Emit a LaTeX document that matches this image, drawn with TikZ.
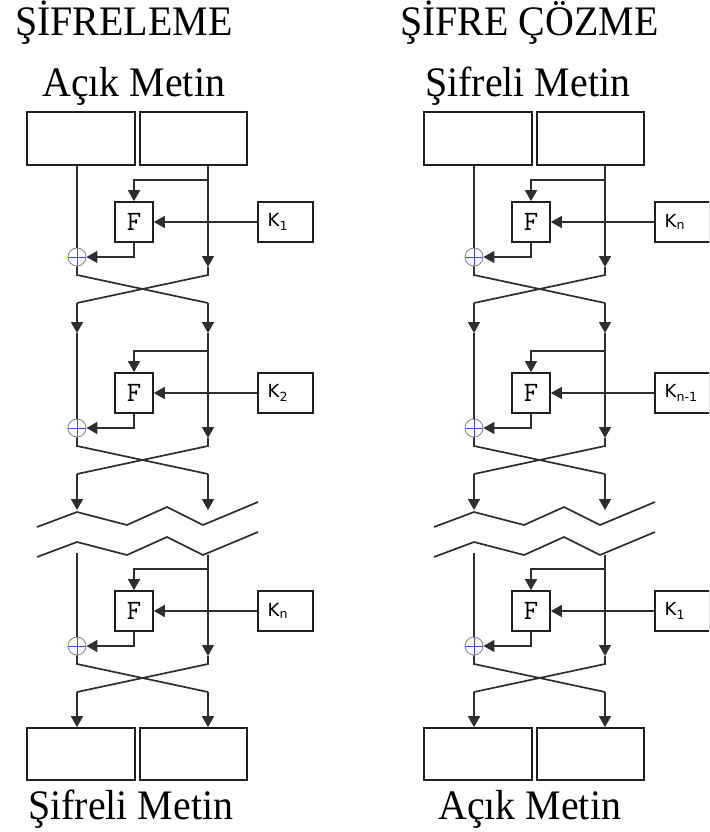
\documentclass[tikz,border=0pt]{standalone}
\usepackage{fontspec}
\setmainfont{Liberation Serif}
\newfontfamily\kfont{DejaVu Sans}
\newfontfamily\titlefont[FakeStretch=0.95]{Liberation Serif}
\usetikzlibrary{arrows.meta,calc}
\tikzset{
 ln/.style={line width=1.7pt, draw=black!82},
 arr/.style={ln, -{Triangle[length=11pt,width=12pt]}},
 blk/.style={draw=black!88, line width=1.7pt, rectangle, inner sep=0pt},
 iobox/.style={blk, minimum height=53pt},
 fbox/.style={blk, minimum width=38pt, minimum height=40pt, font=\ttfamily\fontsize{28}{28}\selectfont},
 kbox/.style={blk, minimum width=55pt, minimum height=40pt},
 klab/.style={anchor=west, inner sep=0pt, font=\kfont\fontsize{18}{18}\selectfont},
 title/.style={anchor=base west, inner sep=0pt, font=\titlefont\fontsize{42}{48}\selectfont},
 xor/.style={circle, draw=black!45, line width=0.9pt, fill=white, minimum size=18pt, inner sep=0pt,
   path picture={\draw[blue!75, line width=0.8pt]
     (path picture bounding box.north) -- (path picture bounding box.south)
     (path picture bounding box.west) -- (path picture bounding box.east);}},
 zig/.style={line width=1.7pt, draw=black!82}
}
\newcommand\feistelrnd[4]{% id, round, centre y, key subscript
 \coordinate (#1B#2) at (208,{#3-42});
 \node[fbox] (#1F#2) at (134,#3) {F};
 \node[kbox] (#1K#2) at (285.5,#3) {};
 \node[klab] (#1KL#2) at (267.5,#3) {K\textsubscript{#4}};
 \node[xor] (#1X#2) at (77,{#3+35}) {};
 \coordinate (#1T#2) at (208,{#3+45});
 \coordinate (#1UL#2) at (77,{#3+53});
 \coordinate (#1UR#2) at (208,{#3+53});
 \coordinate (#1DL#2) at (77,{#3+81});
 \coordinate (#1DR#2) at (208,{#3+81});
 \draw[arr] (#1B#2) -| (#1F#2.north);
 \draw[arr] (#1K#2.west) -- (#1F#2.east);
 \draw[arr] (#1F#2.south) |- (#1X#2.east);
 \draw[ln] (#1X#2.south) -- (#1UL#2) -- (#1DR#2);
 \draw[ln] (#1T#2) -- (#1UR#2) -- (#1DL#2);
}
\newcommand\feistelside[5]{% id, x offset, three key subscripts
 \begin{scope}[xshift=#2pt]
  \node[iobox, minimum width=108pt] (#1IL) at (81,138.5) {};
  \node[iobox, minimum width=107pt] (#1IR) at (193.5,138.5) {};
  \node[iobox, minimum width=108pt, minimum height=52pt] (#1OL) at (81,754) {};
  \node[iobox, minimum width=107pt, minimum height=52pt] (#1OR) at (193.5,754) {};
  \feistelrnd{#1}{1}{222}{#3}
  \feistelrnd{#1}{2}{393}{#4}
  \feistelrnd{#1}{3}{611}{#5}
  \draw[ln] (#1IL.south -| #1X1.north) -- (#1X1.north);
  \draw[arr] (#1IR.south -| #1T1) -- (#1T1);
  \coordinate (#1AL1) at (77,333);
  \coordinate (#1AR1) at (208,333);
  \draw[arr] (#1DL1) -- (#1AL1);
  \draw[arr] (#1DR1) -- (#1AR1);
  \draw[ln] (#1AL1) -- (#1X2.north);
  \draw[arr] (#1AR1) -- (#1T2);
  \coordinate (#1AL2) at (77,510);
  \coordinate (#1AR2) at (208,510);
  \draw[arr] (#1DL2) -- (#1AL2);
  \draw[arr] (#1DR2) -- (#1AR2);
  \draw[zig] (37,527) -- (77,512) -- (127,525) -- (167,507) -- (203,525) -- (258,502);
  \draw[zig] (37,557) -- (77,542) -- (127,555) -- (167,537) -- (203,555) -- (258,532);
  \coordinate (#1SL3) at (77,553);
  \coordinate (#1SR3) at (208,555);
  \draw[ln] (#1SL3) -- (#1X3.north);
  \draw[arr] (#1SR3) -- (#1T3);
  \draw[arr] (#1DL3) -- (#1OL.north -| #1DL3);
  \draw[arr] (#1DR3) -- (#1OR.north -| #1DR3);
 \end{scope}
}
\begin{document}
\begin{tikzpicture}[x=1pt,y=-1pt]
 \useasboundingbox (0,0) rectangle (709,832);
 \clip (0,0) rectangle (709,832);
 \fill[white] (0,0) rectangle (709,832);
 \node[title] (t1) at (15,36) {ŞİFRELEME};
 \node[title] (t2) at (42,97) {Açık Metin};
 \node[title] (t3) at (400,36) {ŞİFRE ÇÖZME};
 \node[title] (t4) at (425,97) {Şifreli Metin};
 \node[title] (t5) at (28,819) {Şifreli Metin};
 \node[title] (t6) at (438,819) {Açık Metin};
 \feistelside{a}{0}{1}{2}{n}
 \feistelside{b}{397}{n}{n-1}{1}
\end{tikzpicture}
\end{document}
